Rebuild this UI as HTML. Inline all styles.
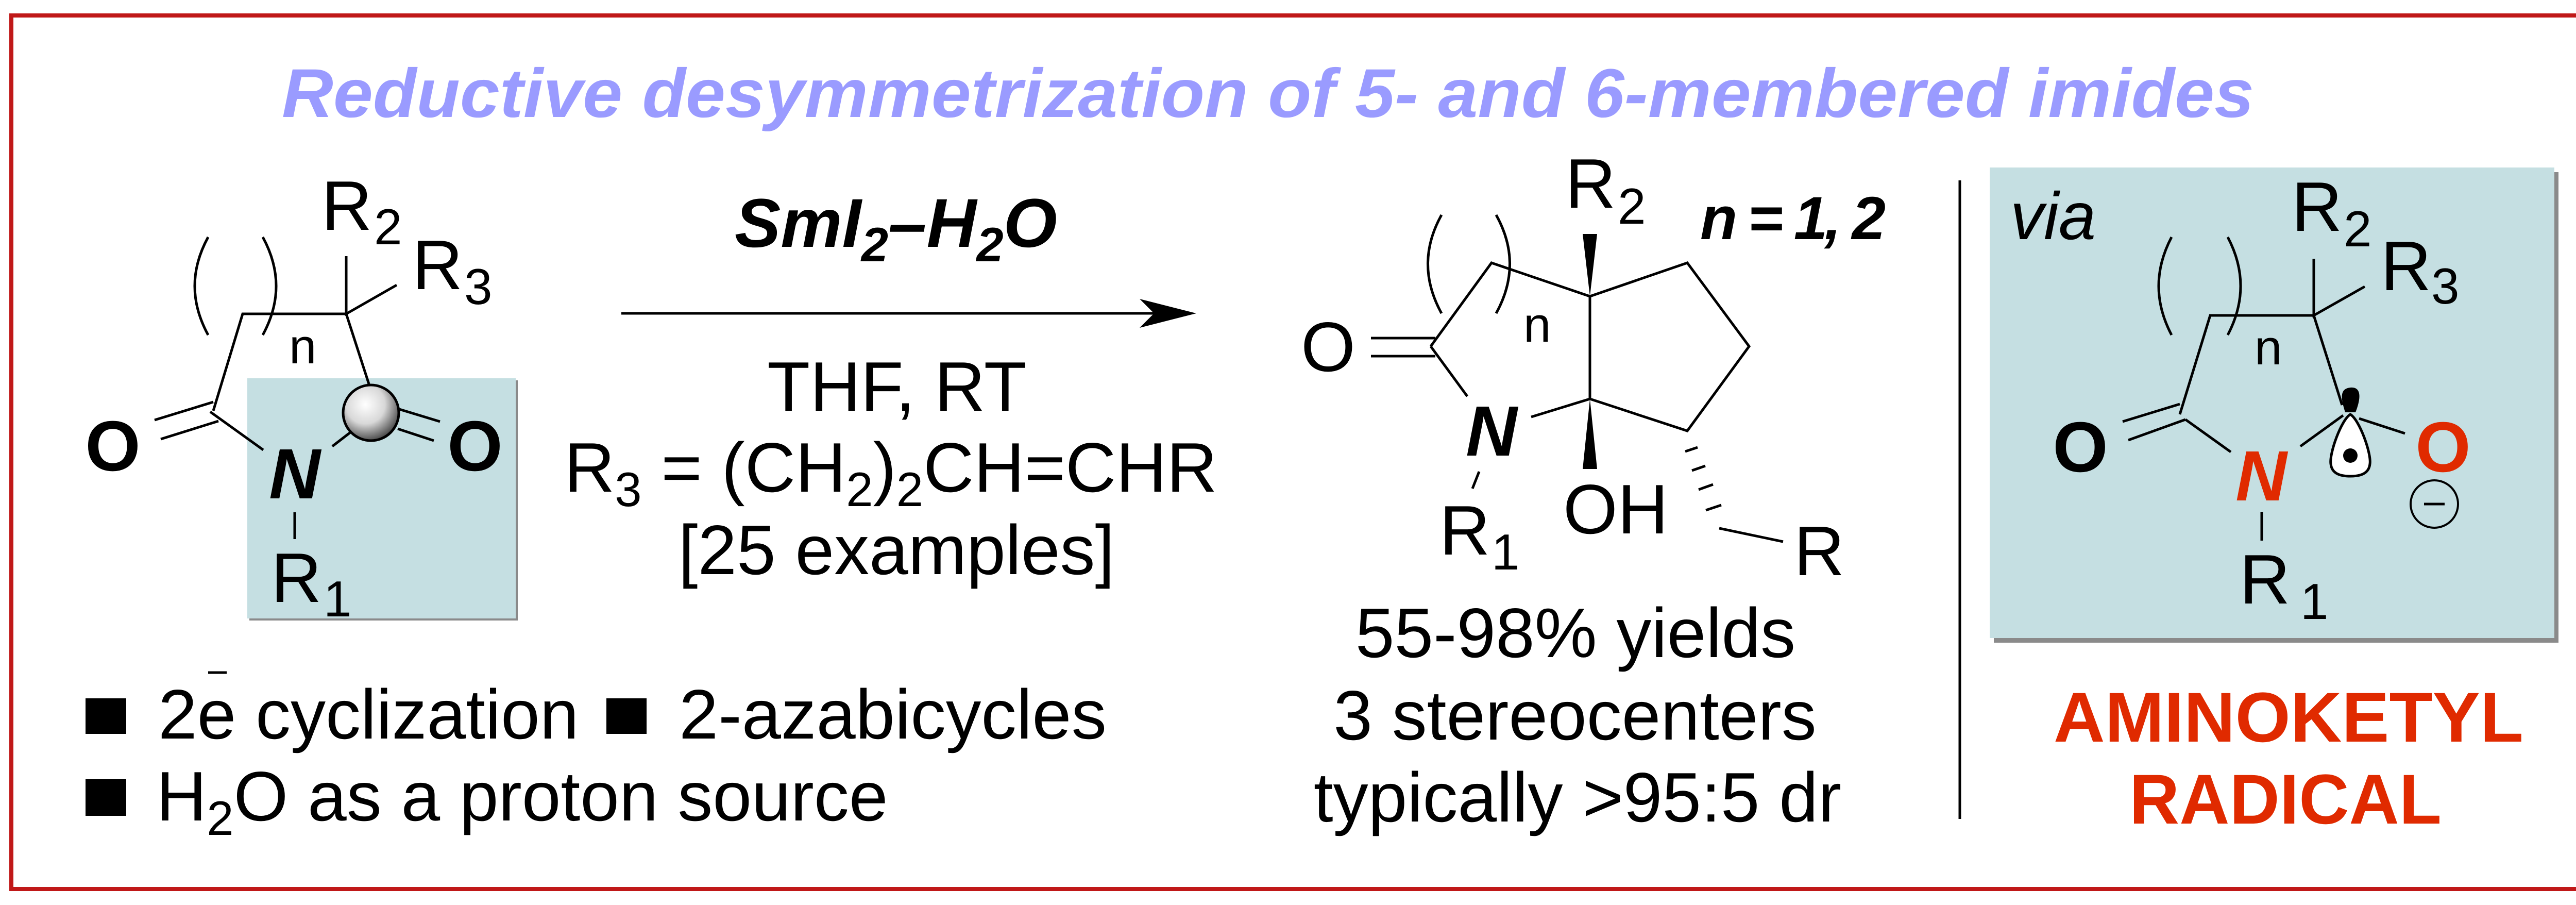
<!DOCTYPE html>
<html><head><meta charset="utf-8"><style>
html,body{margin:0;padding:0;background:#fff}
svg{display:block}
text{font-family:"Liberation Sans",Arial,sans-serif}
</style></head><body>
<svg width="5157" height="1756" viewBox="0 0 5157 1756" xmlns="http://www.w3.org/2000/svg">
<defs>
<radialGradient id="ball" cx="0.4" cy="0.35" r="0.7">
<stop offset="0" stop-color="#ffffff"/><stop offset="0.5" stop-color="#d8d8d8"/><stop offset="1" stop-color="#3a3a3a"/>
</radialGradient>
</defs>
<rect x="0" y="0" width="5157" height="1756" fill="#fff"/>
<rect x="22" y="30" width="5110" height="1695" fill="none" stroke="#c01818" stroke-width="8"/>

<text x="547" y="227" font-size="134" font-weight="bold" font-style="italic" fill="#9a9bff" textLength="3828" lengthAdjust="spacingAndGlyphs">Reductive desymmetrization of 5- and 6-membered imides</text>

<!-- LEFT MOLECULE -->
<rect x="484" y="738" width="521" height="466" fill="#8a8a8a"/>
<rect x="480" y="734" width="521" height="466" fill="#c5dfe2"/>
<g stroke="#000" stroke-width="5" fill="none" stroke-linecap="butt">
<path d="M672,497 L672,609 L770,553"/>
<path d="M414,797 L471,609 L672,609 L716,745"/>
<path d="M408,799 L511,873"/>
<path d="M300,815 L414,780 M312,852 L424,817"/>
<path d="M645,866 L680,839"/>
<path d="M775,794 L854,818 M772,832 L842,855"/>
<path d="M572,994 L572,1046"/>
<path d="M404,460 Q352,555 404,650"/>
<path d="M510,460 Q562,555 510,650"/>
</g>
<circle cx="720" cy="801" r="54" fill="url(#ball)" stroke="#000" stroke-width="5"/>
<text x="219" y="913" font-size="138" font-weight="bold" text-anchor="middle">O</text>
<text x="922" y="913" font-size="138" font-weight="bold" text-anchor="middle">O</text>
<text x="572" y="967" font-size="138" font-weight="bold" font-style="italic" text-anchor="middle">N</text>
<text x="624" y="446" font-size="136">R</text><text x="726" y="474" font-size="98">2</text>
<text x="800" y="561" font-size="136">R</text><text x="901" y="590" font-size="98">3</text>
<text x="526" y="1168" font-size="136">R</text><text x="628" y="1196" font-size="98">1</text>
<text x="561" y="705" font-size="96">n</text>

<!-- ARROW + conditions -->
<line x1="1206" y1="608" x2="2300" y2="608" stroke="#000" stroke-width="5"/>
<path d="M2322,608 L2212,580 L2240,608 L2212,636 Z" fill="#000"/>
<text x="1426" y="479" font-size="134" font-weight="bold" font-style="italic">SmI<tspan font-size="94" dy="28">2</tspan><tspan dy="-28">–H</tspan><tspan font-size="94" dy="28">2</tspan><tspan dy="-28">O</tspan></text>
<text x="1741" y="797" font-size="136" text-anchor="middle">THF, RT</text>
<text x="1095" y="954" font-size="136">R<tspan font-size="94" dy="28">3</tspan><tspan dy="-28"> = (CH</tspan><tspan font-size="94" dy="28">2</tspan><tspan dy="-28">)</tspan><tspan font-size="94" dy="28">2</tspan><tspan dy="-28">CH=CHR</tspan></text>
<text x="1740" y="1114" font-size="136" text-anchor="middle">[25 examples]</text>

<!-- bullets -->
<rect x="166" y="1355" width="79" height="69" fill="#000"/>
<text x="307" y="1433" font-size="136">2e cyclization</text>
<line x1="404" y1="1305" x2="440" y2="1305" stroke="#000" stroke-width="5"/>
<rect x="1177" y="1355" width="78" height="69" fill="#000"/>
<text x="1318" y="1433" font-size="136" textLength="830" lengthAdjust="spacingAndGlyphs">2-azabicycles</text>
<rect x="166" y="1512" width="79" height="71" fill="#000"/>
<text x="303" y="1592" font-size="136">H<tspan font-size="94" dy="28">2</tspan><tspan dy="-28">O as a proton source</tspan></text>

<!-- MIDDLE MOLECULE -->
<g stroke="#000" stroke-width="5" fill="none">
<path d="M2777,672 L2895,510 L3086,575 L3275,510 L3395,672 L3275,836 L3086,774 L3086,575"/>
<path d="M2777,672 L2848,769"/>
<path d="M2972,809 L3086,774"/>
<path d="M2661,656 L2786,656 M2661,691 L2786,691"/>
<path d="M2871,915 L2858,948"/>
<path d="M3337,1025 L3461,1051"/>
<path d="M2798,417 Q2745,512 2798,608"/>
<path d="M2904,417 Q2957,512 2904,608"/>
<path d="M3271,876 L3295,868 M3284,913 L3310,904 M3297,950 L3325,940 M3311,990 L3341,980"/>
</g>
<path d="M3072,454 L3100,454 L3086,575 Z" fill="#000"/>
<path d="M3086,774 L3100,910 L3072,910 Z" fill="#000"/>
<text x="2578" y="720" font-size="136" text-anchor="middle">O</text>
<text x="2895" y="884" font-size="138" font-weight="bold" font-style="italic" text-anchor="middle">N</text>
<text x="3038" y="403" font-size="136">R</text><text x="3140" y="434" font-size="98">2</text>
<text x="3300" y="464" font-size="118" font-weight="bold" font-style="italic" textLength="360" lengthAdjust="spacing">n = 1, 2</text>
<text x="2794" y="1076" font-size="136">R</text><text x="2895" y="1105" font-size="98">1</text>
<text x="3034" y="1035" font-size="136">OH</text>
<text x="3482" y="1116" font-size="136">R</text>
<text x="2957" y="663" font-size="96">n</text>
<text x="3058" y="1275" font-size="136" text-anchor="middle">55-98% yields</text>
<text x="3057" y="1435" font-size="136" text-anchor="middle">3 stereocenters</text>
<text x="3062" y="1594" font-size="136" text-anchor="middle">typically &gt;95:5 dr</text>

<line x1="3804" y1="350" x2="3804" y2="1589" stroke="#000" stroke-width="5"/>

<!-- RIGHT BOX -->
<rect x="3870" y="334" width="1096" height="913" fill="#8a8a8a"/>
<rect x="3862" y="325" width="1096" height="913" fill="#c5dfe2"/>
<text x="3902" y="464" font-size="130" font-style="italic">via</text>
<g stroke="#000" stroke-width="5" fill="none">
<path d="M4491,502 L4491,612 L4590,556"/>
<path d="M4231,804 L4290,612 L4491,612 L4546,786"/>
<path d="M4242,814 L4330,877"/>
<path d="M4231,784 L4120,818 M4242,814 L4131,854"/>
<path d="M4465,866 L4548,806"/>
<path d="M4579,812 L4668,841"/>
<path d="M4390,993 L4390,1049"/>
<path d="M4215,460 Q4165,555 4215,650"/>
<path d="M4324,460 Q4374,555 4324,650"/>
<circle cx="4725" cy="978" r="46" stroke-width="4"/>
<path d="M4705,978 L4745,978"/>
</g>
<path d="M4562,752 C4585,750 4582,775 4572,800 L4552,800 C4544,775 4540,754 4562,752 Z" fill="#000"/>
<path d="M4562,804 C4580,815 4603,880 4600,900 C4598,920 4580,924 4562,924 C4544,924 4526,920 4524,900 C4521,880 4544,815 4562,804 Z" fill="#fff" stroke="#000" stroke-width="5"/>
<circle cx="4562" cy="884" r="14" fill="#000"/>
<text x="4038" y="915" font-size="138" font-weight="bold" text-anchor="middle">O</text>
<text x="4742" y="915" font-size="138" font-weight="bold" text-anchor="middle" fill="#e02a00">O</text>
<text x="4389" y="971" font-size="138" font-weight="bold" font-style="italic" text-anchor="middle" fill="#e02a00">N</text>
<text x="4448" y="448" font-size="136">R</text><text x="4549" y="478" font-size="98">2</text>
<text x="4621" y="563" font-size="136">R</text><text x="4719" y="589" font-size="98">3</text>
<text x="4347" y="1171" font-size="136">R</text><text x="4465" y="1201" font-size="98">1</text>
<text x="4376" y="707" font-size="96">n</text>
<text x="3986" y="1439" font-size="137" font-weight="bold" fill="#e02a00" textLength="912" lengthAdjust="spacingAndGlyphs">AMINOKETYL</text>
<text x="4133" y="1598" font-size="137" font-weight="bold" fill="#e02a00" textLength="606" lengthAdjust="spacingAndGlyphs">RADICAL</text>
</svg>
</body></html>
